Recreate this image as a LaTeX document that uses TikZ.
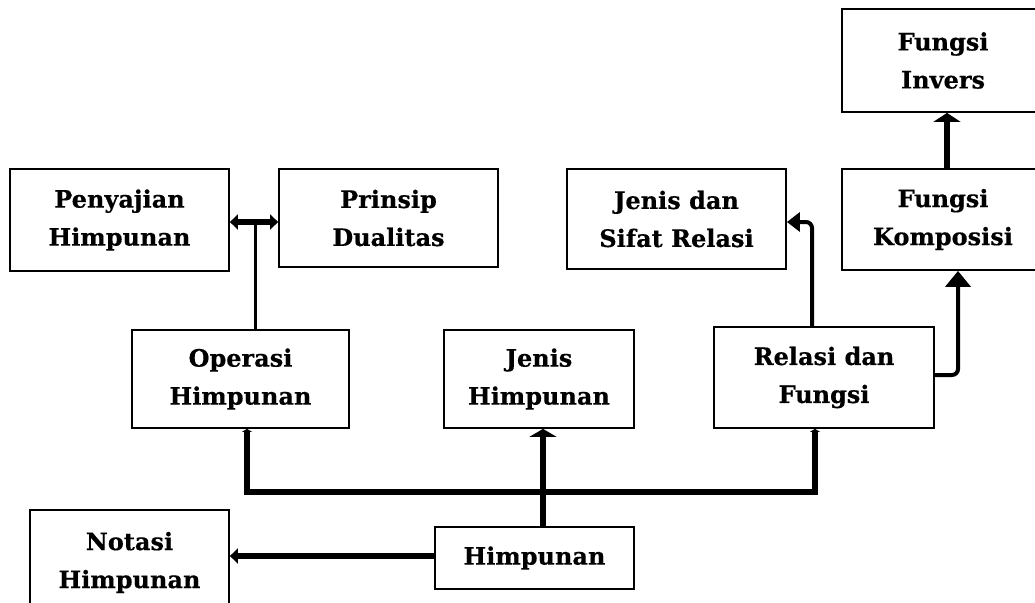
\documentclass[tikz,border=0pt]{standalone}
\usepackage{fontspec}
\setmainfont{DejaVu Serif}[BoldFeatures={FakeBold=0.4}]
\usetikzlibrary{arrows.meta}

\tikzset{
  box/.style={draw=black, line width=1.8pt, fill=white, align=center,
    inner sep=0pt, font=\bfseries\fontsize{24}{38}\selectfont},
  heavy/.style={line width=6.5pt},
  medium/.style={line width=5.5pt},
  bent/.style={line width=4pt, rounded corners=6pt},
  light/.style={line width=3pt},
}

\begin{document}
\begin{tikzpicture}[x=1pt, y=-1pt]
  \fill[white] (0,0) rectangle (1035,602);
  \useasboundingbox (0,0) rectangle (1035,602);
  \clip (0,0) rectangle (1035,602);

  % boxes
  \node[box, minimum width=202pt, minimum height=103pt] (inv)   at (943,60.5)   {Fungsi\\Invers};
  \node[box, minimum width=202pt, minimum height=101pt] (komp)  at (943,219.5)  {Fungsi\\Komposisi};
  \node[box, minimum width=219pt, minimum height=100pt] (sifat) at (676.5,219)  {Jenis dan\\Sifat Relasi};
  \node[box, minimum width=219pt, minimum height=102pt] (peny)  at (119.5,220)  {Penyajian\\Himpunan};
  \node[box, minimum width=219pt, minimum height=98pt]  (prin)  at (388.5,218)  {Prinsip\\Dualitas};
  \node[box, minimum width=217pt, minimum height=98pt]  (oper)  at (240.5,379)  {Operasi\\Himpunan};
  \node[box, minimum width=190pt, minimum height=98pt]  (jenis) at (539,379)    {Jenis\\Himpunan};
  \node[box, minimum width=220pt, minimum height=101pt] (rel)   at (824,377.5)  {Relasi dan\\Fungsi};
  \node[box, minimum width=199pt, minimum height=62pt]  (him)   at (534.5,558)  {Himpunan};
  \node[box, minimum width=199pt, minimum height=105pt] (not)   at (129.5,562.5){Notasi\\Himpunan};

  % routing points
  \coordinate (dm) at (255,222);
  \coordinate (bl) at (247,492);
  \coordinate (bm) at (543,492);
  \coordinate (br) at (815,492);
  \coordinate (rs) at (812,222);
  \coordinate (rk) at (958,375);
  \coordinate (ki) at (947,0);
  \coordinate (hn) at (0,556);

  % Penyajian <-> Prinsip, fed from Operasi
  \draw[light] (oper.north -| dm) -- (dm);
  \draw[medium, {Triangle[length=8pt,width=15pt]}-{Triangle[length=8pt,width=15pt]}]
    (peny.east |- dm) -- (prin.west |- dm);

  % Himpunan -> Jenis Himpunan and the branch bar
  \draw[heavy, -{Triangle[length=8pt,width=27pt]}] (him.north -| bm) -- (jenis.south -| bm);
  \draw[heavy, {Triangle[length=3pt,width=10pt]}-{Triangle[length=3pt,width=10pt]}]
    (oper.south -| bl) -- (bl) -- (br) -- (rel.south -| br);

  % Himpunan -> Notasi
  \draw[medium, -{Triangle[length=8pt,width=15pt]}] (him.west |- hn) -- (not.east |- hn);

  % Relasi -> Jenis dan Sifat Relasi
  \draw[bent, -{Triangle[length=13pt,width=19pt]}]
    (rel.north -| rs) |- (sifat.east |- rs);

  % Relasi -> Komposisi
  \draw[bent, -{Triangle[length=16pt,width=25pt]}]
    (rel.east |- rk) -| (komp.south -| rk);

  % Komposisi -> Invers
  \draw[heavy, -{Triangle[length=9pt,width=27pt]}] (komp.north -| ki) -- (inv.south -| ki);
\end{tikzpicture}
\end{document}
